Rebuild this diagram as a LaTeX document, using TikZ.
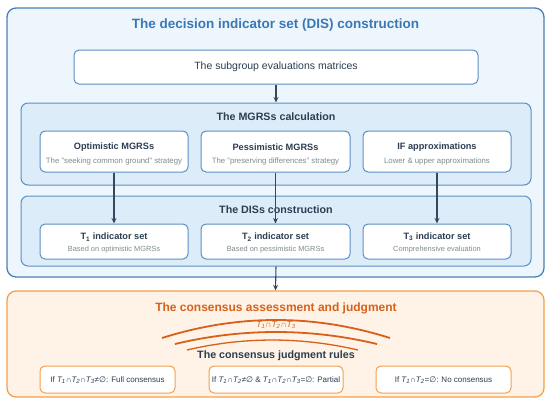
\documentclass[tikz,border=0pt]{standalone}
\usepackage{fontspec}
\setmainfont{Liberation Sans}
\newfontfamily\symfont{DejaVu Sans}
\usetikzlibrary{arrows.meta}
\definecolor{outerblue}{HTML}{4A7FB5}
\definecolor{outerfill}{HTML}{EEF6FD}
\definecolor{innerfill}{HTML}{DDECF9}
\definecolor{innerblue}{HTML}{5B8FC4}
\definecolor{titleblue}{HTML}{3A78B5}
\definecolor{darktext}{HTML}{2C3E50}
\definecolor{graytext}{HTML}{7F8C8D}
\definecolor{orangeb}{HTML}{F5A04D}
\definecolor{orangefill}{HTML}{FEF3E6}
\definecolor{orangetitle}{HTML}{D9601A}
\definecolor{arrowc}{HTML}{34495E}
\newcommand{\Tn}[1]{T\textsubscript{#1}}
\newcommand{\emptysym}{{\symfont\char"2205}}
\tikzset{
  container/.style={draw=outerblue, line width=1.3pt, fill=outerfill, rounded corners=9pt, inner sep=0pt},
  subcont/.style={draw=innerblue, line width=1pt, fill=innerfill, rounded corners=7pt, inner sep=0pt},
  wbox/.style={draw=innerblue, line width=1pt, fill=white, rounded corners=5pt, inner sep=0pt},
  obox/.style={draw=orangeb, line width=1.3pt, fill=orangefill, rounded corners=9pt, inner sep=0pt},
  rbox/.style={draw=orangeb, line width=1pt, fill=white, rounded corners=5pt, inner sep=0pt},
  arr/.style={draw=arrowc, line width=1.1pt, -{Stealth[length=5.5pt,width=5pt]}},
  bigtitle/.style={font=\fontsize{13.5}{16}\selectfont\bfseries, text=titleblue, inner sep=0pt},
  secttitle/.style={font=\fontsize{10.7}{13}\selectfont\bfseries, text=darktext, inner sep=0pt},
  head/.style={font=\fontsize{9.2}{11}\selectfont\bfseries, text=darktext, inner sep=0pt},
  subtxt/.style={font=\fontsize{7.8}{9}\selectfont, text=graytext, inner sep=0pt},
  subtxtb/.style={font=\fontsize{7.4}{9}\selectfont, text=graytext, inner sep=0pt},
  plain/.style={font=\fontsize{10.5}{12}\selectfont, text=darktext, inner sep=0pt},
  ruletxt/.style={font=\fontsize{8}{10}\selectfont, text=darktext, inner sep=0pt},
  arcline/.style={draw=orangetitle, line width=1.8pt},
}
\begin{document}
\begin{tikzpicture}[x=1pt,y=-1pt]
\useasboundingbox (0,0) rectangle (550,405);
% outer blue container
\node[container, minimum width=537pt, minimum height=269pt] (outer) at (275.5,142.5) {};
\node[bigtitle] (title) at (275.5,25) {The decision indicator set (DIS) construction};
\node[wbox, minimum width=404pt, minimum height=34pt] (sub) at (276,67) {};
\node[plain] (subt) at (276,67) {The subgroup evaluations matrices};
% MGRSs calculation
\node[subcont, minimum width=510pt, minimum height=82pt] (mgrs) at (276,144) {};
\node[secttitle] (mgrst) at (276,117) {The MGRSs calculation};
\node[wbox, minimum width=148pt, minimum height=41pt] (opt) at (114,151.5) {};
\node[wbox, minimum width=149pt, minimum height=41pt] (pes) at (275.5,151.5) {};
\node[wbox, minimum width=148pt, minimum height=41pt] (ifa) at (437,151.5) {};
\node[head] (optt) at (114,147.5) {Optimistic MGRSs};
\node[subtxt] (opts) at (114,161) {The "seeking common ground" strategy};
\node[head] (pest) at (275.5,147.5) {Pessimistic MGRSs};
\node[subtxt] (pess) at (275.5,161) {The "preserving differences" strategy};
\node[head] (ifat) at (437,147.5) {IF approximations};
\node[subtxt] (ifas) at (437,161) {Lower \& upper approximations};
% DISs construction
\node[subcont, minimum width=510pt, minimum height=70pt] (diss) at (276,231) {};
\node[secttitle] (disst) at (276,210) {The DISs construction};
\node[wbox, minimum width=148pt, minimum height=35pt] (t1) at (114,241.5) {};
\node[wbox, minimum width=149pt, minimum height=35pt] (t2) at (275.5,241.5) {};
\node[wbox, minimum width=148pt, minimum height=35pt] (t3) at (437,241.5) {};
\node[head] (t1t) at (114,237) {\Tn{1} indicator set};
\node[subtxtb] (t1s) at (114,250) {Based on optimistic MGRSs};
\node[head] (t2t) at (275.5,237) {\Tn{2} indicator set};
\node[subtxtb] (t2s) at (275.5,250) {Based on pessimistic MGRSs};
\node[head] (t3t) at (437,237) {\Tn{3} indicator set};
\node[subtxtb] (t3s) at (437,250) {Comprehensive evaluation};
% orange consensus container
\node[obox, minimum width=537pt, minimum height=106pt] (cons) at (275.5,344) {};
\node[font=\fontsize{12}{14}\selectfont\bfseries, text=orangetitle, inner sep=0pt] (const) at (276,308) {The consensus assessment and judgment};
\draw[arcline] (162,338) .. controls (238,314) and (314,314) .. (390,338);
\draw[arcline] (175,344) .. controls (242.3,328) and (309.7,328) .. (377,344);
\draw[arcline, line width=1.3pt] (187,350) .. controls (243.7,336.7) and (300.7,336.7) .. (358,350);
\node[font=\fontsize{8.5}{10}\selectfont\itshape, text=orangetitle, inner sep=0pt] (tint) at (276,325) {\Tn{1}∩\Tn{2}∩\Tn{3}};
\node[secttitle] (rulest) at (276,356) {The consensus judgment rules};
\node[rbox, minimum width=135pt, minimum height=27pt] (r1) at (107.5,379.5) {};
\node[rbox, minimum width=134pt, minimum height=27pt] (r2) at (276,379.5) {};
\node[rbox, minimum width=135pt, minimum height=27pt] (r3) at (443.5,379.5) {};
\node[ruletxt] (r1t) at (107.5,380) {If \textit{\Tn{1}∩\Tn{2}∩\Tn{3}≠\emptysym}: Full consensus};
\node[ruletxt] (r2t) at (276,380) {If \textit{\Tn{1}∩\Tn{2}≠\emptysym} \& \textit{\Tn{1}∩\Tn{2}∩\Tn{3}=\emptysym}: Partial};
\node[ruletxt] (r3t) at (443.5,380) {If \textit{\Tn{1}∩\Tn{2}=\emptysym}: No consensus};
% connectors
\draw[arr] (sub.south) -- (mgrs.north);
\draw[arr] (opt.south) -- (t1.north);
\draw[arr] (pes.south) -- (t2.north);
\draw[arr] (ifa.south) -- (t3.north);
\draw[arr] (diss.south) -- (cons.north);
\end{tikzpicture}
\end{document}
